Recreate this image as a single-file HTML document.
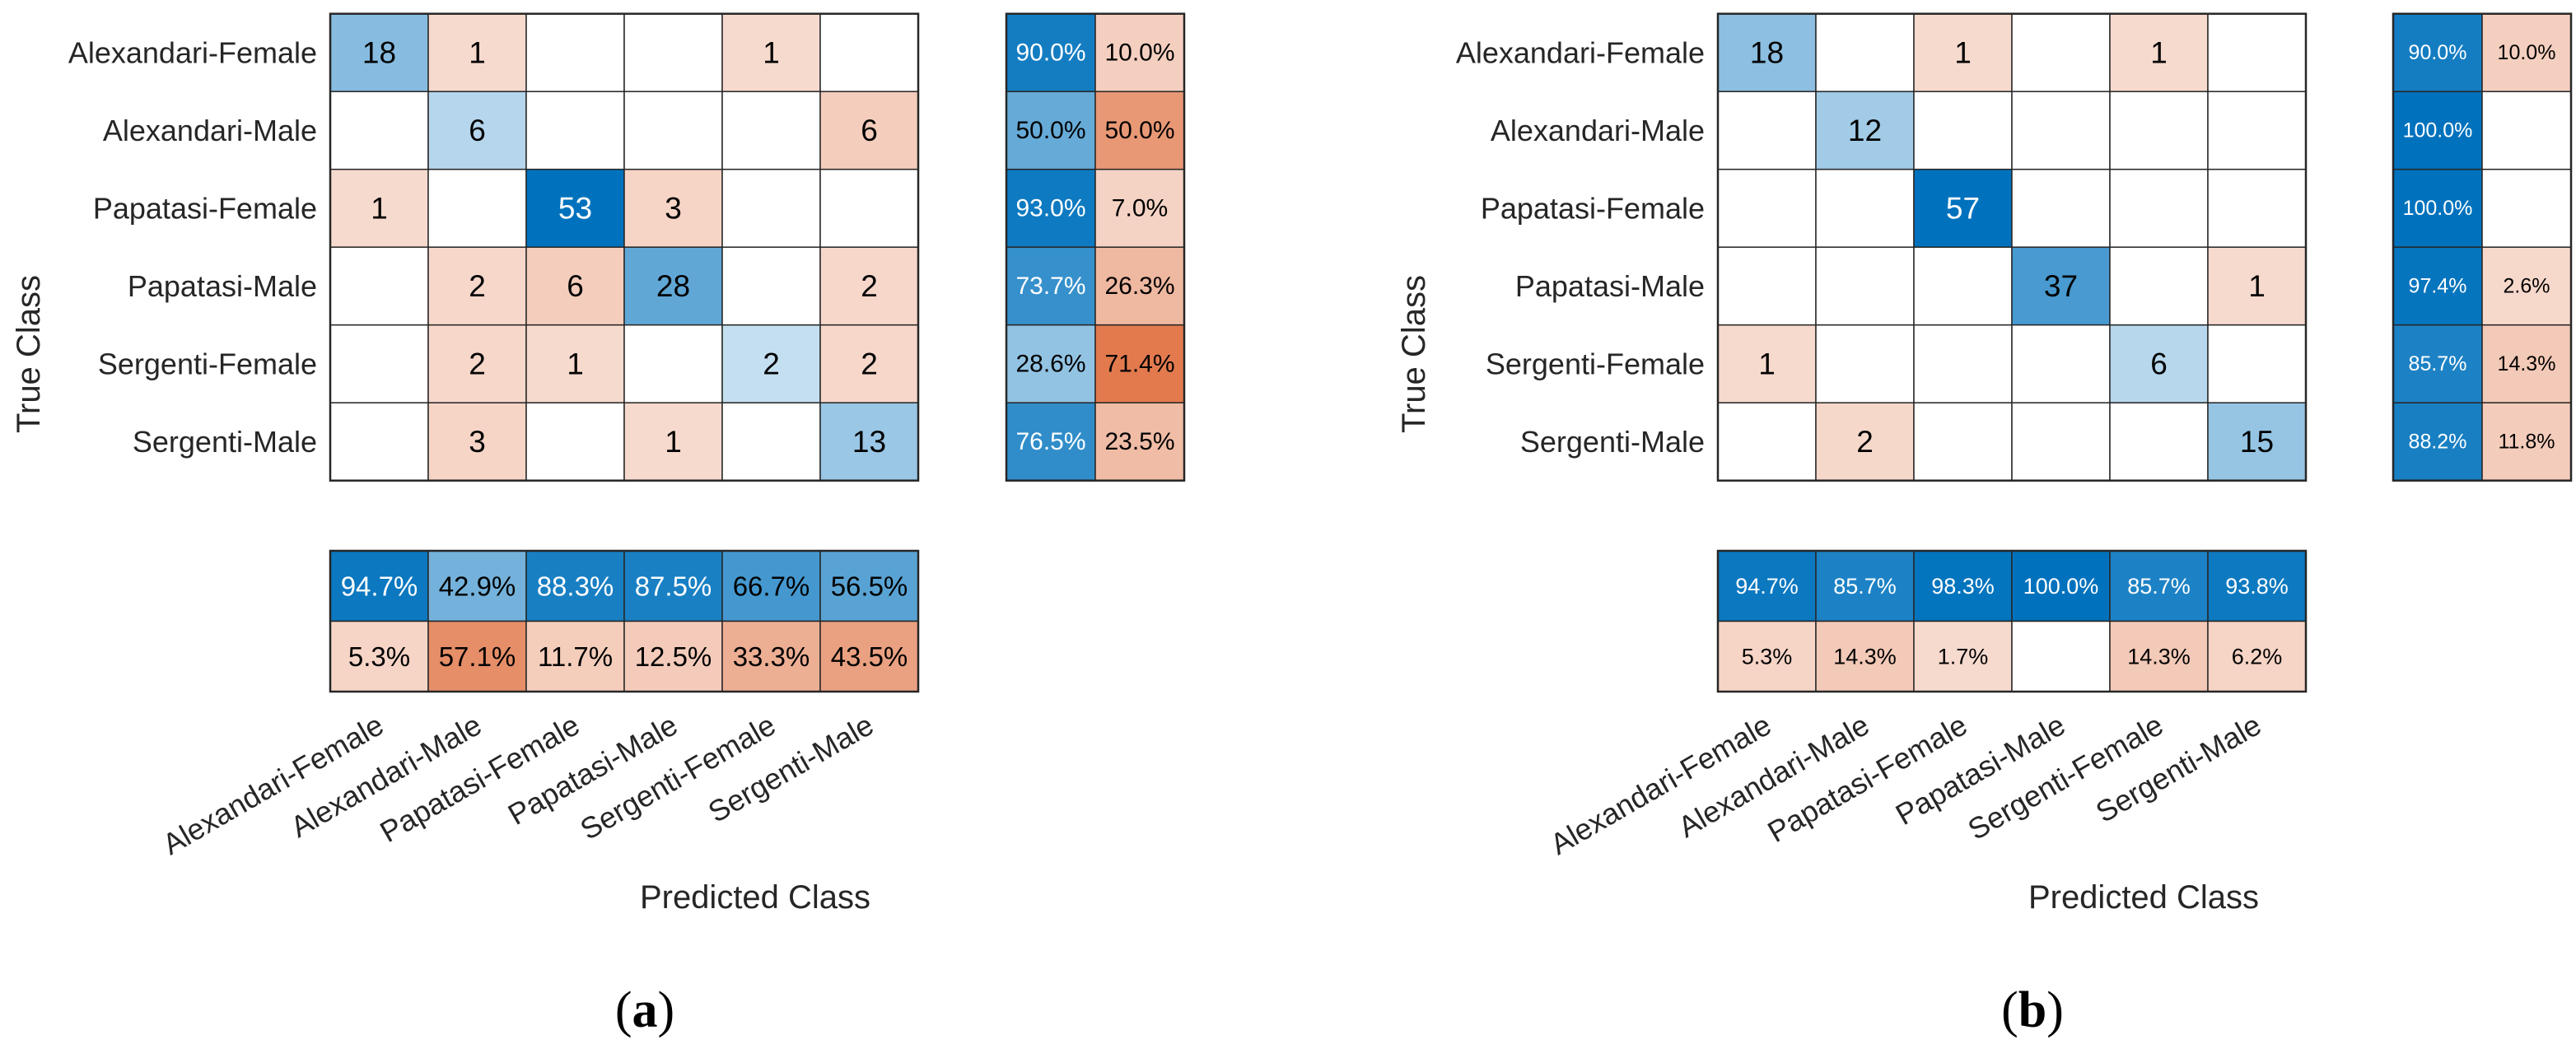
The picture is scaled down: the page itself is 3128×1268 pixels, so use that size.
<!DOCTYPE html>
<html><head><meta charset="utf-8">
<style>
html,body{margin:0;padding:0;background:#fff;}
svg{display:block;font-family:"Liberation Sans",Arial,sans-serif;}
</style></head>
<body>
<svg id="fig" width="3128" height="1268" viewBox="0 0 3128 1268" xmlns="http://www.w3.org/2000/svg"></svg>
<script>
const classes = ["Alexandari-Female","Alexandari-Male","Papatasi-Female","Papatasi-Male","Sergenti-Female","Sergenti-Male"];
const countsA = [
 [18,1,0,0,1,0],
 [0,6,0,0,0,6],
 [1,0,53,3,0,0],
 [0,2,6,28,0,2],
 [0,2,1,0,2,2],
 [0,3,0,1,0,13]];
const countsB = [
 [18,0,1,0,1,0],
 [0,12,0,0,0,0],
 [0,0,57,0,0,0],
 [0,0,0,37,0,1],
 [1,0,0,0,6,0],
 [0,2,0,0,0,15]];
const rowCorrectA = [90.0,50.0,93.0,73.7,28.6,76.5];
const rowWrongA = [10.0,50.0,7.0,26.3,71.4,23.5];
const colCorrectA = [94.7,42.9,88.3,87.5,66.7,56.5];
const colWrongA = [5.3,57.1,11.7,12.5,33.3,43.5];
const rowCorrectB = [90.0,100.0,100.0,97.4,85.7,88.2];
const rowWrongB = [10.0,0,0,2.6,14.3,11.8];
const colCorrectB = [94.7,85.7,98.3,100.0,85.7,93.8];
const colWrongB = [5.3,14.3,1.7,0,14.3,6.2];

const NS="http://www.w3.org/2000/svg";
const svg=document.getElementById('fig');
const BLUE=[0,114,189], ORANGE=[217,83,25];
function mix(c,t){return 'rgb('+c.map(v=>Math.round(255-(255-v)*t)).join(',')+')';}
function el(tag,attrs,parent){const e=document.createElementNS(NS,tag);for(const k in attrs)e.setAttribute(k,attrs[k]);(parent||svg).appendChild(e);return e;}
const CW=119, RH=94.5, TOP=16.7;

function cell(g,x,y,w,h,val,frac,isBlue,label,fs,name){
  const t = val>0 ? 0.2+0.8*frac : 0;
  const r=el('rect',{x:x,y:y,width:w,height:h,fill:t>0?mix(isBlue?BLUE:ORANGE,t):'#fff',stroke:'#262626','stroke-width':1.5},g);
  
  
  if(val>0){
    const tx=el('text',{x:x+w/2,y:y+h/2,'text-anchor':'middle','dominant-baseline':'central','font-size':fs,fill:(isBlue&&t>0.76)?'#fff':'#000'},g);
    tx.textContent=label;
    
    
  }
}

function panel(ox,counts,rc,rw,cc,cw,sumFs,sumFsB,letter,predX,letterX,trueX,rightX){
  const g=el('g',{});
  
  
  let mx=0; counts.forEach(r=>r.forEach(v=>{if(v>mx)mx=v;}));
  for(let i=0;i<6;i++){
    for(let j=0;j<6;j++){
      const v=counts[i][j];
      cell(g,ox+j*CW,TOP+i*RH,CW,RH,v,v/mx,i===j,String(v),37,'cell-'+letter+'-r'+i+'-c'+j);
    }
    const lab=el('text',{x:ox-16,y:TOP+(i+0.5)*RH,'text-anchor':'end','dominant-baseline':'central','font-size':36,fill:'#262626'},g);
    lab.textContent=classes[i];
    
    
    const sw=108;
    cell(g,rightX,TOP+i*RH,sw,RH,rc[i],rc[i]/100,true,rc[i].toFixed(1)+'%',sumFs,'row-summary-correct-'+letter+'-'+i);
    cell(g,rightX+sw,TOP+i*RH,sw,RH,rw[i],rw[i]/100,false,rw[i].toFixed(1)+'%',sumFs,'row-summary-wrong-'+letter+'-'+i);
  }
  const bT=669, bH=85.5;
  for(let j=0;j<6;j++){
    cell(g,ox+j*CW,bT,CW,bH,cc[j],cc[j]/100,true,cc[j].toFixed(1)+'%',sumFsB,'col-summary-correct-'+letter+'-'+j);
    cell(g,ox+j*CW,bT+bH,CW,bH,cw[j],cw[j]/100,false,cw[j].toFixed(1)+'%',sumFsB,'col-summary-wrong-'+letter+'-'+j);
    const cx=ox+(j+0.5)*CW+8, cy=888;
    const t=el('text',{x:cx,y:cy,'text-anchor':'end','font-size':36,fill:'#262626',transform:'rotate(-30 '+cx+' '+cy+')'},g);
    t.textContent=classes[j];
    
    
  }
  // outer borders
  [[ox,TOP,6*CW,6*RH],[rightX,TOP,216,6*RH],[ox,bT,6*CW,2*bH]].forEach((b,k)=>{
    const r=el('rect',{x:b[0],y:b[1],width:b[2],height:b[3],fill:'none',stroke:'#262626','stroke-width':2.5},g);
    
    
  });
  const pc=el('text',{x:predX,y:1103,'text-anchor':'middle','font-size':40,fill:'#262626'},g);
  pc.textContent='Predicted Class';
  
  
  const tc=el('text',{x:trueX,y:430,'text-anchor':'middle','dominant-baseline':'central','font-size':40,fill:'#262626',transform:'rotate(-90 '+trueX+' 430)'},g);
  tc.textContent='True Class';
  
  
  const lt=el('text',{x:letterX,y:1247,'text-anchor':'middle','font-size':62,fill:'#000','font-family':'"Liberation Serif",serif'},g);
  lt.innerHTML='(<tspan font-weight="bold">'+letter+'</tspan>)';
  
  
}
panel(401,countsA,rowCorrectA,rowWrongA,colCorrectA,colWrongA,30,33,'a',917,783,35,1222);
panel(2086,countsB,rowCorrectB,rowWrongB,colCorrectB,colWrongB,25,27,'b',2603,2468,1717,2906);
</script>
</body></html>
